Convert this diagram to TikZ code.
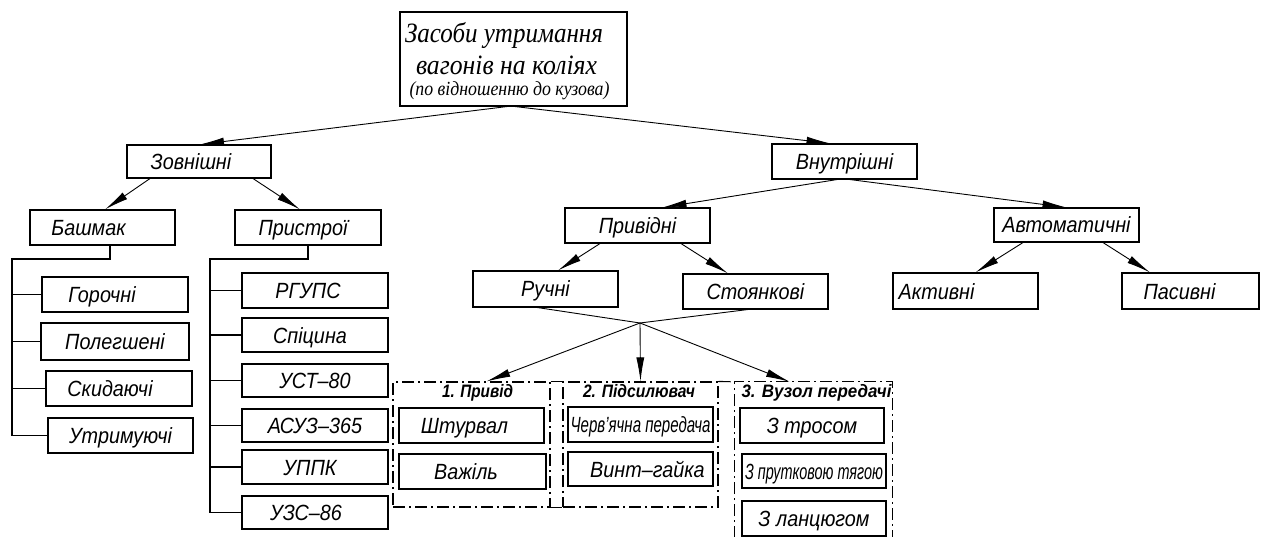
\documentclass[tikz,border=0pt]{standalone}
\usepackage{fontspec}
\setmainfont{Liberation Serif}
\newfontfamily\gostfont[FakeStretch=0.9]{Liberation Sans}
\usepackage{graphicx}
\usetikzlibrary{arrows.meta,calc}
\tikzset{
  box/.style={draw, line width=1.1pt, inner sep=0pt,
    font={\gostfont\itshape\fontsize{22}{26}\selectfont},
    text height=16pt, text depth=0pt},
  arr/.style={line width=0.9pt, -{Latex[length=24pt,width=8pt]}},
  link/.style={line width=0.9pt},
  rail/.style={line width=1.2pt},
  grp/.style={line width=1.1pt, dash pattern=on 12pt off 4pt on 2pt off 4pt},
  grpbox/.style={grp, draw, inner sep=0pt},
  grptitle/.style={font={\gostfont\bfseries\itshape\fontsize{18}{21}\selectfont}, inner sep=0pt, anchor=base},
  roottext/.style={font=\itshape, inner sep=0pt, anchor=base},
}
\newcommand\bx[6]{\node[box, minimum width={(#4-#2)*1pt}, minimum height={(#5-#3)*1pt}] (#1) at ({(#2+#4)/2},{(#3+#5)/2}) {#6};}
\newcommand\gx[5]{\node[grpbox, minimum width={(#4-#2)*1pt}, minimum height={(#5-#3)*1pt}] (#1) at ({(#2+#4)/2},{(#3+#5)/2}) {};}
\begin{document}
\begin{tikzpicture}[x=1pt,y=-1pt]
\useasboundingbox[fill=white] (0,0) rectangle (1263,537);

% root
\node[draw, line width=1.1pt, inner sep=0pt, minimum width=227pt, minimum height=94pt] (root) at (513.5,59) {};
\node[roottext] (r1) at (504,43) {\resizebox{198pt}{\height}{\fontsize{28}{30}\selectfont Засоби утримання}};
\node[roottext] (r2) at (506.5,75) {\resizebox{181pt}{\height}{\fontsize{28}{30}\selectfont вагонів на коліях}};
\node[roottext] (r3) at (509.5,96) {\resizebox{200pt}{\height}{\fontsize{20}{22}\selectfont (по відношенню до кузова)}};

% level 1
\bx{zov}{127}{145}{271}{178}{Зовнішні\hspace*{16pt}}
\bx{vnu}{772}{144}{917}{179}{Внутрішні}

% level 2
\bx{bash}{30}{210}{175}{245}{Башмак\hspace*{28pt}}
\bx{pris}{235}{210}{381}{245}{Пристрої\hspace*{10pt}}
\bx{priv}{565}{208}{710}{243}{Привідні}
\bx{avto}{994}{208}{1139}{242}{Автоматичні}

% level 3
\bx{ruch}{473}{271}{618}{307}{Ручні}
\bx{stoy}{683}{274}{828}{309}{Стоянкові}
\bx{akt}{893}{273}{1038}{309}{Активні\hspace*{58pt}}
\bx{pas}{1122}{273}{1259}{309}{Пасивні\hspace*{22pt}}

% Башмак list
\bx{gor}{42}{277}{188}{312}{Горочні\hspace*{26pt}}
\bx{pol}{41}{323}{189}{360}{Полегшені}
\bx{skid}{46}{371}{192}{406}{Скидаючі\hspace*{18pt}}
\bx{utr}{48}{418}{193}{453}{Утримуючі}

% Пристрої list
\bx{rgups}{242}{273}{388}{308}{РГУПС\hspace*{14pt}}
\bx{spic}{242}{318}{388}{352}{Спіцина\hspace*{10pt}}
\bx{ust}{242}{364}{388}{397}{УСТ–80}
\bx{asuz}{242}{409}{388}{442}{АСУЗ–365}
\bx{uppk}{242}{450}{388}{484}{УППК\hspace*{10pt}}
\bx{uzs}{242}{496}{388}{529}{УЗС–86\hspace*{18pt}}

% groups
\gx{g1}{393}{382}{550}{507}
\gx{g2}{563}{382}{718}{507}
\node[inner sep=0pt, minimum width=157pt, minimum height=178pt] (g3) at (813.5,471) {};
\draw[grp] (g3.south west) |- (g3.north east) -- (g3.south east);
\draw[grp] (g1.north east) -- (g2.north west);
\draw[grp] (g2.north east) -- (g3.north west);
\draw[grp] (g1.south east) -- (g2.south west);

\node[grptitle] (t1) at (477.5,397) {\resizebox{71pt}{\height}{1. Привід}};
\node[grptitle] (t2) at (639,397) {\resizebox{112pt}{\height}{2. Підсилювач}};
\node[grptitle] (t3) at (816.5,397) {\resizebox{150pt}{\height}{3. Вузол передачі}};

\bx{shtur}{399}{408}{544}{443}{Штурвал\hspace*{14pt}}
\bx{vazh}{399}{454}{546}{489}{Важіль\hspace*{13pt}}
\bx{cherv}{568}{407}{713}{442}{\resizebox{140pt}{\height}{Черв’ячна передача}}
\bx{vint}{568}{452}{713}{486}{\hspace*{14pt}Винт–гайка}
\bx{tros}{740}{408}{884}{443}{З тросом}
\bx{prut}{742}{454}{886}{488}{\resizebox{138pt}{\height}{З прутковою тягою}}
\bx{lanc}{742}{501}{886}{536}{З ланцюгом}

% arrows
\draw[arr] ($(root.south)+(-6.5,0)$) -- ($(zov.north)+(1,0)$);
\draw[arr] ($(root.south)+(1.5,0)$) -- ($(vnu.north)+(-14,0)$);
\draw[arr] ($(zov.south)+(-49,0)$) -- ($(bash.north)+(2.5,0)$);
\draw[arr] ($(zov.south)+(54,0)$) -- ($(pris.north)+(-8,0)$);
\draw[arr] ($(vnu.south)+(-7.5,0)$) -- ($(priv.north)+(25,0)$);
\draw[arr] ($(vnu.south)+(5.5,0)$) -- (avto.north);
\draw[arr] ($(priv.south)+(-37.5,0)$) -- ($(ruch.north)+(12.5,0)$);
\draw[arr] ($(priv.south)+(43.5,0)$) -- ($(stoy.north)+(-27.5,0)$);
\draw[arr] ($(avto.south)+(-43.5,0)$) -- ($(akt.north)+(10,0)$);
\draw[arr] ($(avto.south)+(36.5,0)$) -- ($(pas.north)+(-40.5,0)$);

\coordinate (hub) at (640,323);
\draw[link] ($(ruch.south)+(-8,0)$) -- (hub);
\draw[link] ($(stoy.south)+(-8,0)$) -- (hub);
\draw[arr] (hub) -- ($(g1.north west)+(94,0)$);
\draw[arr] (hub) -- (g2.north);
\draw[arr] (hub) -- ($(g3.north west)+(55,0)$);

% rails
\coordinate (ra) at (12,259);
\coordinate (rb) at (210,259);
\draw[rail] ($(bash.south)+(7.5,0)$) |- (ra) |- (utr.west);
\draw[rail] (ra |- gor.west) -- (gor.west);
\draw[rail] (ra |- pol.west) -- (pol.west);
\draw[rail] (ra |- skid.west) -- (skid.west);
\draw[rail] (pris.south) |- (rb) |- (uzs.west);
\draw[rail] (rb |- rgups.west) -- (rgups.west);
\draw[rail] (rb |- spic.west) -- (spic.west);
\draw[rail] (rb |- ust.west) -- (ust.west);
\draw[rail] (rb |- asuz.west) -- (asuz.west);
\draw[rail] (rb |- uppk.west) -- (uppk.west);
\end{tikzpicture}
\end{document}
